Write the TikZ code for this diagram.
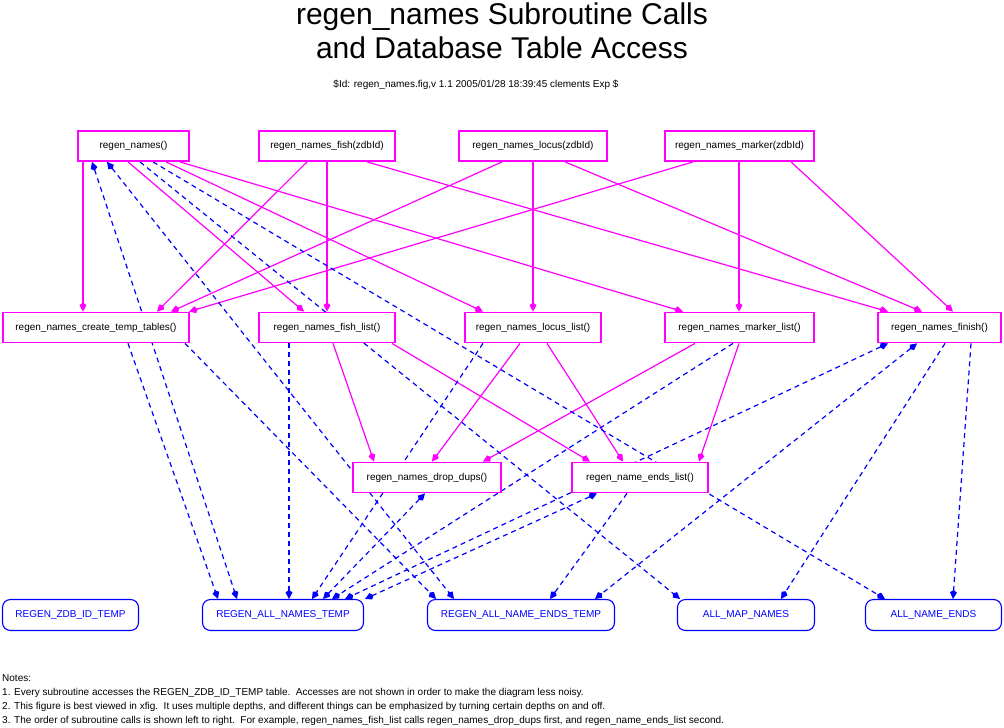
\documentclass[tikz,border=0pt]{standalone}
\usepackage{fontspec}
\setmainfont{Liberation Sans}
\usetikzlibrary{arrows.meta}
\pgfdeclarelayer{bg}
\pgfsetlayers{bg,main}
\definecolor{mag}{RGB}{255,0,255}
\definecolor{blu}{RGB}{0,0,255}
\tikzset{
  sub/.style={draw=mag, line width=1.8pt, fill=white, minimum height=30pt, inner sep=0pt, font=\fontsize{10}{12}\selectfont},
  tbl/.style={draw=blu, line width=1.1pt, rounded corners=8pt, fill=white, text=blu, minimum height=31pt, inner sep=0pt, font=\fontsize{10}{12}\selectfont},
  tip/.tip={Kite[length=9pt,width=7pt,inset=2.5pt]},
  call/.style={draw=mag, line width=1.2pt, -tip},
  acc/.style={draw=blu, line width=1.2pt, dash pattern=on 5pt off 4pt, -tip},
  accrw/.style={draw=blu, line width=1.2pt, dash pattern=on 5pt off 4pt, tip-tip},
  titletext/.style={anchor=base, inner sep=0pt, font=\fontsize{30}{34}\selectfont},
  notetext/.style={anchor=base west, inner sep=0pt, font=\fontsize{10}{12}\selectfont}
}
\begin{document}
\begin{tikzpicture}[x=1pt,y=-1pt]
\useasboundingbox (0,0) rectangle (1004,728);
% titles
\node[titletext] (title1) at (502,24.5) {regen\_names Subroutine Calls};
\node[titletext] (title2) at (502,58.5) {and Database Table Access};
\node[anchor=base, inner sep=0pt, font=\fontsize{10}{12}\selectfont] (rcsid) at (476,87) {\$Id: regen\_names.fig,v 1.1 2005/01/28 18:39:45 clements Exp \$};
% subroutines
\node[sub, minimum width=111.2pt] (rn) at (133.5,146) {regen\_names()};
\node[sub, minimum width=136.2pt] (rf) at (327,146) {regen\_names\_fish(zdbId)};
\node[sub, minimum width=148.2pt] (rl) at (533,146) {regen\_names\_locus(zdbId)};
\node[sub, minimum width=149.2pt] (rm) at (739.5,146) {regen\_names\_marker(zdbId)};
\node[sub, minimum width=186.2pt] (ct) at (96,327.5) {regen\_names\_create\_temp\_tables()};
\node[sub, minimum width=136.2pt] (fl) at (327,327.5) {regen\_names\_fish\_list()};
\node[sub, minimum width=136.2pt] (ll) at (533,327.5) {regen\_names\_locus\_list()};
\node[sub, minimum width=149.2pt] (ml) at (739.5,327.5) {regen\_names\_marker\_list()};
\node[sub, minimum width=123.2pt] (fi) at (939.5,327.5) {regen\_names\_finish()};
\node[sub, minimum width=148.2pt] (dd) at (427,477.5) {regen\_names\_drop\_dups()};
\node[sub, minimum width=136.2pt] (nel) at (640,477.5) {regen\_name\_ends\_list()};
% tables
\node[tbl, minimum width=136pt] (t1) at (70.5,615) {REGEN\_ZDB\_ID\_TEMP};
\node[tbl, minimum width=161pt] (t2) at (283,615) {REGEN\_ALL\_NAMES\_TEMP};
\node[tbl, minimum width=187pt] (t3) at (521,615) {REGEN\_ALL\_NAME\_ENDS\_TEMP};
\node[tbl, minimum width=137pt] (t4) at (746,615) {ALL\_MAP\_NAMES};
\node[tbl, minimum width=136pt] (t5) at (933.5,615) {ALL\_NAME\_ENDS};
% notes
\node[notetext] (n0) at (2,681) {Notes:};
\node[notetext] (n1) at (2,695) {1. Every subroutine accesses the REGEN\_ZDB\_ID\_TEMP table.\ \ Accesses are not shown in order to make the diagram less noisy.};
\node[notetext] (n2) at (2,709) {2. This figure is best viewed in xfig.\ \ It uses multiple depths, and different things can be emphasized by turning certain depths on and off.};
\node[notetext] (n3) at (2,723.5) {3. The order of subroutine calls is shown left to right.\ \ For example, regen\_names\_fish\_list calls regen\_names\_drop\_dups first, and regen\_name\_ends\_list second.};
\begin{pgfonlayer}{bg}
% calls
\draw[call] (rn.south -| 83,0) -- (ct.north -| 83,0);
\draw[call] (rn.south -| 128,0) -- (fl.north -| 304,0);
\draw[call] (rn.south -| 166,0) -- (ll.north -| 483,0);
\draw[call] (rn.south -| 180,0) -- (ml.north -| 683,0);
\draw[call] (rf.south -| 307,0) -- (ct.north -| 157,0);
\draw[call] (rf.south -| 327,0) -- (fl.north -| 327,0);
\draw[call] (rf.south -| 367,0) -- (fi.north -| 888,0);
\draw[call] (rl.south -| 502,0) -- (ct.north -| 171,0);
\draw[call] (rl.south -| 533,0) -- (ll.north -| 533,0);
\draw[call] (rl.south -| 565,0) -- (fi.north -| 922,0);
\draw[call] (rm.south -| 693,0) -- (ct.north -| 189,0);
\draw[call] (rm.south -| 739,0) -- (ml.north -| 739,0);
\draw[call] (rm.south -| 791,0) -- (fi.north -| 953,0);
\draw[call] (fl.south -| 333,0) -- (dd.north -| 374,0);
\draw[call] (fl.south -| 392,0) -- (nel.north -| 590,0);
\draw[call] (ll.south -| 520,0) -- (dd.north -| 432,0);
\draw[call] (ll.south -| 547,0) -- (nel.north -| 623,0);
\draw[call] (ml.south -| 695,0) -- (dd.north -| 483,0);
\draw[call] (ml.south -| 739,0) -- (nel.north -| 699,0);
% table accesses
\draw[acc] (ct.south -| 128,0) -- (t2.north -| 218,0);
\draw[accrw] (rn.south -| 92,0) -- (t2.north -| 237,0);
\draw[acc] (ct.south -| 185,0) -- (t3.north -| 436,0);
\draw[accrw] (rn.south -| 107,0) -- (t3.north -| 454,0);
\draw[acc] (fl.south -| 289,0) -- (t2.north -| 289,0);
\draw[acc] (rn.south -| 140,0) -- (t4.north -| 680,0);
\draw[acc] (rn.south -| 153,0) -- (t5.north -| 885,0);
\draw[acc] (ll.south -| 483,0) -- (t2.north -| 312,0);
\draw[accrw] (dd.south -| 425,0) -- (t2.north -| 323,0);
\draw[acc] (ml.south -| 733,0) -- (t2.north -| 332,0);
\draw[accrw] (fi.south -| 888,0) -- (t2.north -| 345,0);
\draw[accrw] (nel.south -| 597,0) -- (t2.north -| 365,0);
\draw[accrw] (fi.south -| 917,0) -- (t3.north -| 595,0);
\draw[acc] (nel.south -| 627,0) -- (t3.north -| 550,0);
\draw[acc] (fi.south -| 945,0) -- (t4.north -| 781,0);
\draw[acc] (fi.south -| 971,0) -- (t5.north -| 953,0);
\end{pgfonlayer}
\end{tikzpicture}
\end{document}
